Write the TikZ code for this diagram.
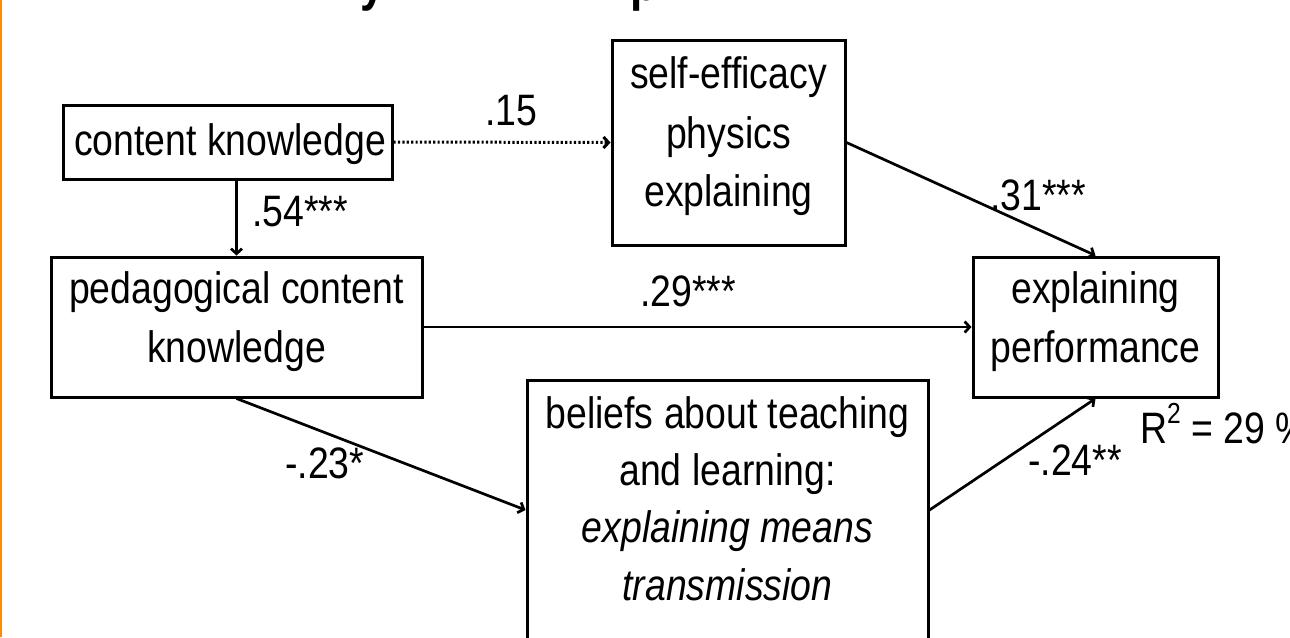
\documentclass[tikz,border=0pt]{standalone}
\usepackage{fontspec}
\setmainfont{Liberation Sans}[FakeStretch=0.85]
\usetikzlibrary{arrows.meta}
\definecolor{slideorange}{RGB}{255,140,0}
\tikzset{
  boxnode/.style={draw=black, line width=3pt, inner sep=0pt, rectangle},
  lbl/.style={inner sep=0pt, anchor=base, font=\fontsize{44}{57}\selectfont},
  lblw/.style={lbl, anchor=base west},
  ttl/.style={inner sep=0pt, anchor=base west, font=\fontsize{52}{60}\selectfont\bfseries},
  arr/.style={line width=2.7pt, -{Straight Barb[length=5pt,width=11pt]}},
  dotarr/.style={arr, line width=3pt, dash pattern=on 2.2pt off 2.2pt},
}
\begin{document}
\begin{tikzpicture}[x=1pt,y=-1pt]
\useasboundingbox (0,0) rectangle (1290,637);
\fill[white] (0,0) rectangle (1290,637);
\draw[slideorange, line width=2pt] (1,0) -- (1,637);

% cut-off title fragments
\node[ttl] (ttly) at (360,0) {y};
\node[ttl] (ttlp) at (630,0) {p};

% boxes
\node[boxnode, minimum width=329pt, minimum height=74pt] (ck) at (227.5,142) {};
\node[lbl] (ckt) at (230,155) {content knowledge};

\node[boxnode, minimum width=233pt, minimum height=205pt] (se) at (728.5,142.5) {};
\node[lbl] (set1) at (728.5,88) {self-efficacy};
\node[lbl] (set2) at (728.5,148) {physics};
\node[lbl] (set3) at (728.5,206) {explaining};

\node[boxnode, minimum width=371pt, minimum height=140pt] (pck) at (236.5,327) {};
\node[lbl] (pckt1) at (236.5,303) {pedagogical content};
\node[lbl] (pckt2) at (236.5,362) {knowledge};

\node[boxnode, minimum width=245pt, minimum height=140pt] (ep) at (1095.5,327) {};
\node[lbl] (ept1) at (1095.5,303) {explaining};
\node[lbl] (ept2) at (1095.5,362) {performance};

\node[boxnode, minimum width=401pt, minimum height=260pt] (bl) at (727.5,510) {};
\node[lbl] (blt1) at (727.5,428) {beliefs about teaching};
\node[lbl] (blt2) at (727.5,485) {and learning:};
\node[lbl] (blt3) at (727.5,542) {\itshape explaining means};
\node[lbl] (blt4) at (727.5,600) {\itshape transmission};

% connectors
\draw[dotarr] (ck.east) -- (se.west);
\draw[arr] (ck.south -| pck.north) -- (pck.north);
\draw[arr] (se.east) -- (ep.north);
\draw[arr] (pck.east) -- (ep.west);
\draw[arr] (pck.south) -- (bl.west);
\draw[arr] (bl.east) -- (ep.south);

% coefficients
\node[lbl] (l15) at (511,125) {.15};
\node[lblw] (l54) at (252,226) {.54***};
\node[lblw] (l31) at (990,210) {.31***};
\node[lblw] (l29) at (640,306) {.29***};
\node[lblw] (l23) at (285,478) {-.23*};
\node[lblw] (l24) at (1028,475) {-.24**};
\node[lblw] (r2) at (1140,443) {R\raisebox{20pt}{\fontsize{29}{29}\selectfont 2} = 29 \%};
\end{tikzpicture}
\end{document}
